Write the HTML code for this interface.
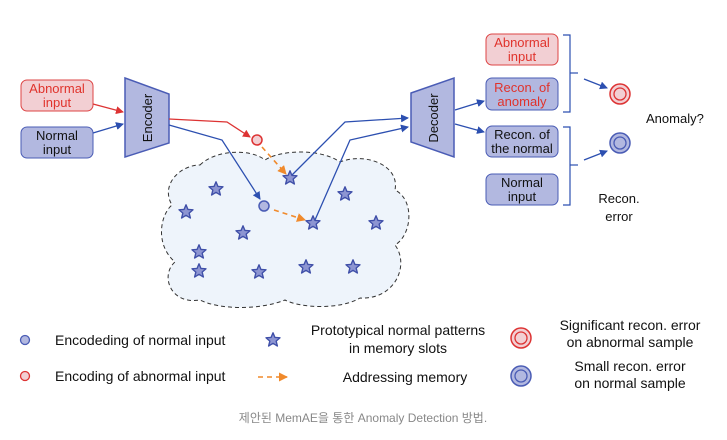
<!DOCTYPE html>
<html><head><meta charset="utf-8"><style>
html,body{margin:0;padding:0;background:#fff;}
svg{display:block;font-family:"Liberation Sans",Arial,sans-serif;}
</style></head><body>
<svg width="727" height="440" viewBox="0 0 727 440" xmlns="http://www.w3.org/2000/svg">
<defs>
<marker id="ab" markerWidth="8" markerHeight="8" refX="7" refY="4" orient="auto" markerUnits="userSpaceOnUse"><path d="M0,0 L8,4 L0,8 z" fill="#2c4fb0"/></marker>
<marker id="ar" markerWidth="8" markerHeight="8" refX="7" refY="4" orient="auto" markerUnits="userSpaceOnUse"><path d="M0,0 L8,4 L0,8 z" fill="#d33"/></marker>
<marker id="ao" markerWidth="9" markerHeight="9" refX="8" refY="4.5" orient="auto" markerUnits="userSpaceOnUse"><path d="M0,0 L9,4.5 L0,9 z" fill="#f08a2c"/></marker>
<symbol id="st" viewBox="-10 -10 20 20"><path d="M0,-8 L2.2,-2.8 L7.8,-2.5 L3.5,1.2 L4.9,6.7 L0,3.7 L-4.9,6.7 L-3.5,1.2 L-7.8,-2.5 L-2.2,-2.8 Z" fill="#8d95d2" stroke="#3f4fa8" stroke-width="1.5" stroke-linejoin="round"/></symbol>
</defs>
<path d="M200,165 C215,150 250,148 265,160 C280,150 320,148 340,162 C365,152 400,165 395,190 C415,200 412,235 395,245 C410,265 395,300 360,298 C340,310 300,308 285,300 C260,310 220,310 200,300 C170,305 160,275 175,262 C155,245 160,215 172,205 C160,185 180,165 200,165 Z" fill="#eef4fb" stroke="#333" stroke-width="1" stroke-dasharray="4,3"/>
<rect x="21" y="80" width="72" height="31" rx="6" fill="#f2cfd3" stroke="#d44" stroke-width="1"/>
<text x="57" y="93" font-size="13" fill="#e0332c" text-anchor="middle">Abnormal</text>
<text x="57" y="107" font-size="13" fill="#e0332c" text-anchor="middle">input</text>
<rect x="21" y="127" width="72" height="31" rx="6" fill="#b2b8e0" stroke="#4a5cb5" stroke-width="1"/>
<text x="57" y="140" font-size="13" fill="#111" text-anchor="middle">Normal</text>
<text x="57" y="154" font-size="13" fill="#111" text-anchor="middle">input</text>
<line x1="93" y1="104" x2="123" y2="112" stroke="#d33" stroke-width="1.3" marker-end="url(#ar)"/>
<line x1="93" y1="133" x2="123" y2="124" stroke="#2c4fb0" stroke-width="1.3" marker-end="url(#ab)"/>
<polygon points="125,78 169,94 169,143 125,157" fill="#b2b8e0" stroke="#4a5cb5" stroke-width="1.5"/>
<text transform="translate(152,118) rotate(-90)" font-size="13" text-anchor="middle" fill="#111">Encoder</text>
<polygon points="411,93 454,78 454,157 411,142" fill="#b2b8e0" stroke="#4a5cb5" stroke-width="1.5"/>
<text transform="translate(438,118) rotate(-90)" font-size="13" text-anchor="middle" fill="#111">Decoder</text>
<polyline points="169,119 227,122 250,137" fill="none" stroke="#d33" stroke-width="1.3" marker-end="url(#ar)"/>
<polyline points="169,125 222,140 260,199" fill="none" stroke="#2c4fb0" stroke-width="1.3" marker-end="url(#ab)"/>
<circle cx="257" cy="140" r="5" fill="#f2cfd3" stroke="#d33" stroke-width="1.5"/>
<circle cx="264" cy="206" r="5" fill="#b2b8e0" stroke="#4a5cb5" stroke-width="1.5"/>
<line x1="262" y1="147" x2="286" y2="174" stroke="#f08a2c" stroke-width="1.6" stroke-dasharray="5,4" marker-end="url(#ao)"/>
<line x1="274" y1="210" x2="305" y2="220" stroke="#f08a2c" stroke-width="1.6" stroke-dasharray="5,4" marker-end="url(#ao)"/>
<polyline points="292,175 345,122 408,118" fill="none" stroke="#2c4fb0" stroke-width="1.3" marker-end="url(#ab)"/>
<polyline points="315,220 350,140 408,127" fill="none" stroke="#2c4fb0" stroke-width="1.3" marker-end="url(#ab)"/>
<g>
<use href="#st" x="281" y="169" width="18" height="18"/>
<use href="#st" x="304" y="214" width="18" height="18"/>
<use href="#st" x="207" y="180" width="18" height="18"/>
<use href="#st" x="177" y="203" width="18" height="18"/>
<use href="#st" x="234" y="224" width="18" height="18"/>
<use href="#st" x="190" y="243" width="18" height="18"/>
<use href="#st" x="190" y="262" width="18" height="18"/>
<use href="#st" x="250" y="263" width="18" height="18"/>
<use href="#st" x="297" y="258" width="18" height="18"/>
<use href="#st" x="344" y="258" width="18" height="18"/>
<use href="#st" x="336" y="185" width="18" height="18"/>
<use href="#st" x="367" y="214" width="18" height="18"/>
</g>
<line x1="455" y1="110" x2="484" y2="101" stroke="#2c4fb0" stroke-width="1.3" marker-end="url(#ab)"/>
<line x1="455" y1="124" x2="484" y2="132" stroke="#2c4fb0" stroke-width="1.3" marker-end="url(#ab)"/>
<rect x="486" y="34" width="72" height="31" rx="6" fill="#f2cfd3" stroke="#d44" stroke-width="1"/>
<text x="522" y="47" font-size="13" fill="#e0332c" text-anchor="middle">Abnormal</text>
<text x="522" y="61" font-size="13" fill="#e0332c" text-anchor="middle">input</text>
<rect x="486" y="78" width="72" height="32" rx="6" fill="#b2b8e0" stroke="#4a5cb5" stroke-width="1"/>
<text x="522" y="92" font-size="13" fill="#e0332c" text-anchor="middle">Recon. of</text>
<text x="522" y="106" font-size="13" fill="#e0332c" text-anchor="middle">anomaly</text>
<rect x="486" y="126" width="72" height="31" rx="6" fill="#b2b8e0" stroke="#4a5cb5" stroke-width="1"/>
<text x="522" y="139" font-size="13" fill="#111" text-anchor="middle">Recon. of</text>
<text x="522" y="153" font-size="13" fill="#111" text-anchor="middle">the normal</text>
<rect x="486" y="174" width="72" height="31" rx="6" fill="#b2b8e0" stroke="#4a5cb5" stroke-width="1"/>
<text x="522" y="187" font-size="13" fill="#111" text-anchor="middle">Normal</text>
<text x="522" y="201" font-size="13" fill="#111" text-anchor="middle">input</text>
<polyline points="563,35 570,35 570,112 563,112" fill="none" stroke="#2c4fb0" stroke-width="1.2"/>
<line x1="570" y1="73" x2="578" y2="73" stroke="#2c4fb0" stroke-width="1.2"/>
<polyline points="563,127 570,127 570,205 563,205" fill="none" stroke="#2c4fb0" stroke-width="1.2"/>
<line x1="570" y1="165" x2="578" y2="165" stroke="#2c4fb0" stroke-width="1.2"/>
<line x1="584" y1="79" x2="607" y2="88" stroke="#2c4fb0" stroke-width="1.3" marker-end="url(#ab)"/>
<line x1="584" y1="160" x2="607" y2="151" stroke="#2c4fb0" stroke-width="1.3" marker-end="url(#ab)"/>
<circle cx="620" cy="94" r="10" fill="#f2cfd3" stroke="#d33" stroke-width="1.5"/>
<circle cx="620" cy="94" r="6" fill="none" stroke="#d33" stroke-width="1.3"/>
<circle cx="620" cy="143" r="10" fill="#b2b8e0" stroke="#4a5cb5" stroke-width="1.5"/>
<circle cx="620" cy="143" r="6" fill="none" stroke="#4a5cb5" stroke-width="1.3"/>
<text x="646" y="123" font-size="13" fill="#111">Anomaly?</text>
<text x="619" y="203" font-size="13" fill="#111" text-anchor="middle">Recon.</text>
<text x="619" y="221" font-size="13" fill="#111" text-anchor="middle">error</text>
<circle cx="25" cy="340" r="4.5" fill="#b2b8e0" stroke="#4a5cb5" stroke-width="1.3"/>
<text x="55" y="345" font-size="14" fill="#111">Encodeding of normal input</text>
<circle cx="25" cy="376" r="4.5" fill="#f2cfd3" stroke="#d33" stroke-width="1.3"/>
<text x="55" y="381" font-size="14" fill="#111">Encoding of abnormal input</text>
<use href="#st" x="264" y="331" width="18" height="18"/>
<text x="398" y="335" font-size="14" fill="#111" text-anchor="middle">Prototypical normal patterns</text>
<text x="398" y="353" font-size="14" fill="#111" text-anchor="middle">in memory slots</text>
<line x1="258" y1="377" x2="287" y2="377" stroke="#f08a2c" stroke-width="1.6" stroke-dasharray="5,4" marker-end="url(#ao)"/>
<text x="405" y="382" font-size="14" fill="#111" text-anchor="middle">Addressing memory</text>
<circle cx="521" cy="338" r="10" fill="#f2cfd3" stroke="#d33" stroke-width="1.5"/>
<circle cx="521" cy="338" r="6" fill="none" stroke="#d33" stroke-width="1.3"/>
<circle cx="521" cy="376" r="10" fill="#b2b8e0" stroke="#4a5cb5" stroke-width="1.5"/>
<circle cx="521" cy="376" r="6" fill="none" stroke="#4a5cb5" stroke-width="1.3"/>
<text x="630" y="330" font-size="14" fill="#111" text-anchor="middle">Significant recon. error</text>
<text x="630" y="347" font-size="14" fill="#111" text-anchor="middle">on abnormal sample</text>
<text x="630" y="371" font-size="14" fill="#111" text-anchor="middle">Small recon. error</text>
<text x="630" y="388" font-size="14" fill="#111" text-anchor="middle">on normal sample</text>
<text x="363" y="422" font-size="12" fill="#888" text-anchor="middle" font-family="'Liberation Sans','Noto Sans CJK KR',sans-serif">제안된 MemAE을 통한 Anomaly Detection 방법.</text>
</svg>
</body></html>
